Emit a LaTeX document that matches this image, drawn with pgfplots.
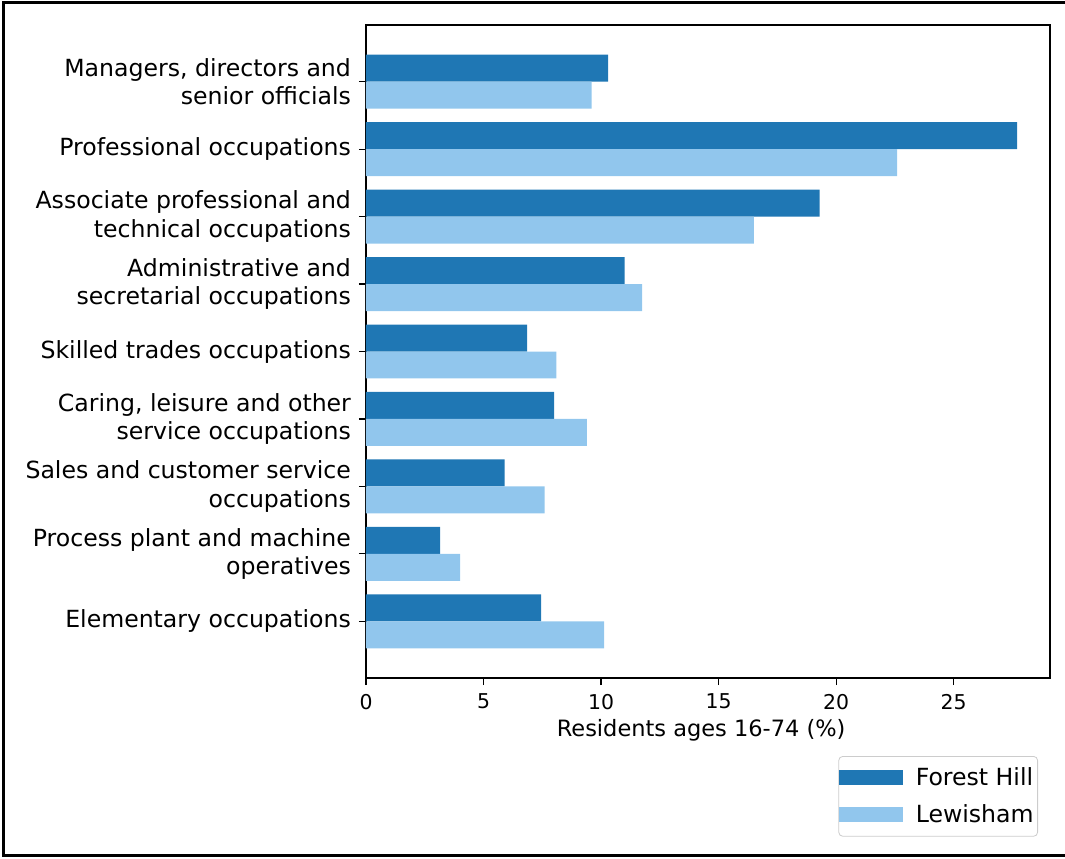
\documentclass[border=0pt]{standalone}
\usepackage{pgfplots}
\pgfplotsset{compat=1.18}
\usepackage{fontspec}
\setmainfont{DejaVu Sans}
\definecolor{fh}{HTML}{1F77B4}
\definecolor{lw}{RGB}{145,198,237}
\begin{document}
\begin{tikzpicture}
\path[use as bounding box] (-183pt,-90pt) rectangle (349.5pt,339pt);
\draw[line width=1.5pt] (-181pt,-88.75pt) rectangle (354.5pt,337.5pt);
\begin{axis}[
  at={(0pt,0pt)}, anchor=south west,
  scale only axis, width=342pt, height=326.5pt,
  xbar, bar width=0.4,
  xmin=0, xmax=29.1, ymin=-0.84, ymax=8.84,
  xtick={0,5,10,15,20,25},
  ytick={0,1,2,3,4,5,6,7,8},
  yticklabels={
    {Elementary occupations},
    {Process plant and machine\\operatives},
    {Sales and customer service\\occupations},
    {Caring, leisure and other\\service occupations},
    {Skilled trades occupations},
    {Administrative and\\secretarial occupations},
    {Associate professional and\\technical occupations},
    {Professional occupations},
    {Managers, directors and\\senior officials}},
  tick align=outside, tick pos=left,
  major tick length=3.5pt,
  every tick/.style={black, line width=0.6pt},
  axis line style={black, line width=0.6pt},
  /pgf/number format/assume math mode=true,
  xticklabel style={font=\fontsize{10.2}{12}\selectfont, yshift=-1pt},
  yticklabel style={align=right, font=\fontsize{11.8}{14.2}\selectfont, xshift=-0.5pt},
  xlabel={Residents ages 16-74 (\%)},
  xlabel style={font=\fontsize{11.25}{14}\selectfont, anchor=center, at={(axis description cs:0.49,-0.08)}},
  legend style={at={(axis description cs:0.98246,-0.11945)}, anchor=north east,
    draw=black!20, rounded corners=2pt, font=\fontsize{11.8}{14}\selectfont,
    inner xsep=0pt, inner ysep=3.5pt, row sep=4pt,
    nodes={inner sep=2pt},
    /tikz/every odd column/.append style={column sep=4.5pt}},
  legend cell align=left,
]
\addplot[fill=fh, draw=none, bar shift=0.2,
  legend image code/.code={\fill[fh, sharp corners] (0pt,-3.75pt) rectangle (32pt,3.75pt);}]
  coordinates {(10.3,8) (27.7,7) (19.3,6) (11.0,5) (6.85,4) (8.0,3) (5.9,2) (3.15,1) (7.45,0)};
\addlegendentry{Forest Hill}
\addplot[fill=lw, draw=none, bar shift=-0.2,
  legend image code/.code={\fill[lw, sharp corners] (0pt,-3.75pt) rectangle (32pt,3.75pt);}]
  coordinates {(9.6,8) (22.6,7) (16.5,6) (11.75,5) (8.1,4) (9.4,3) (7.6,2) (4.0,1) (10.13,0)};
\addlegendentry{Lewisham}
\end{axis}
\end{tikzpicture}
\end{document}
